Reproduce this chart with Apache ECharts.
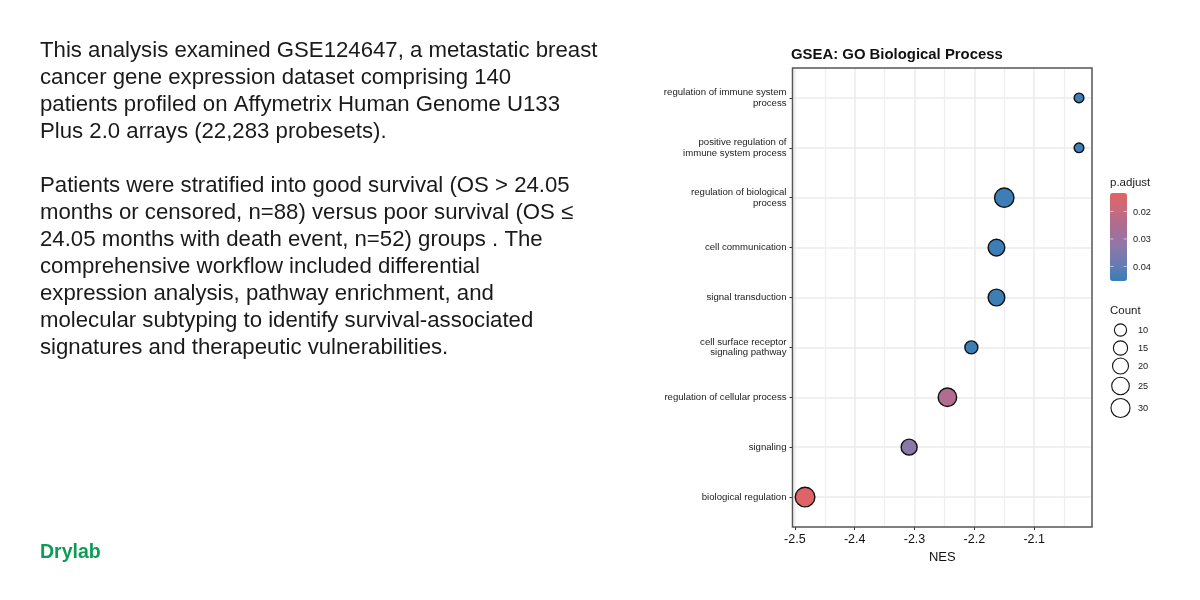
<!DOCTYPE html>
<html>
<head>
<meta charset="utf-8">
<script src="https://cdn.jsdelivr.net/npm/echarts@6/dist/echarts.min.js"></script>
<style>html,body{margin:0;padding:0;background:#fff}#c{width:1200px;height:600px}</style>
</head>
<body>
<div id="c"></div>
<script>
const terms = ['biological regulation','signaling','regulation of cellular process','cell surface receptor\nsignaling pathway','signal transduction','cell communication','regulation of biological\nprocess','positive regulation of\nimmune system process','regulation of immune system\nprocess'];
const nes = [-2.483,-2.309,-2.245,-2.205,-2.163,-2.163,-2.15,-2.025,-2.025];
const padjust = [0.0140,0.0335,0.0245,0.0445,0.0445,0.0445,0.0445,0.0445,0.0445];
const counts = [32,20,28,12,22,22,31,5,5];
const xTicks = [-2.5,-2.4,-2.3,-2.2,-2.1];
const xMinor = [-2.45,-2.35,-2.25,-2.15,-2.05];
const colorTicks = [0.02,0.03,0.04];
const sizeLegend = [10,15,20,25,30];
const para1 = ['This analysis examined GSE124647, a metastatic breast','cancer gene expression dataset comprising 140','patients profiled on Affymetrix Human Genome U133','Plus 2.0 arrays (22,283 probesets).'];
const para2 = ['Patients were stratified into good survival (OS > 24.05','months or censored, n=88) versus poor survival (OS \u2264','24.05 months with death event, n=52) groups . The','comprehensive workflow included differential','expression analysis, pathway enrichment, and','molecular subtyping to identify survival-associated','signatures and therapeutic vulnerabilities.'];

const FONT = '"Liberation Sans", Arial, sans-serif';
const sizeOf = c => Math.sqrt(40 + 10.8 * c);
const chart = echarts.init(document.getElementById('c'));
const graphics = [];
const addText = (x, y, text, size, color, weight) => graphics.push({type:'text', x, y, z:100, style:{text, fontFamily:FONT, fontSize:size, fill:color, fontWeight:weight||'normal', textVerticalAlign:'middle', textBaseline:'middle'}});
para1.forEach((t,i)=>addText(40, 50.5 + i*27.2, t, 22.2, '#1a1a1a'));
para2.forEach((t,i)=>addText(40, 185.5 + i*27, t, 22.2, '#1a1a1a'));
addText(40, 553, 'Drylab', 19.5, '#0f9b56', 'bold');

addText(1110, 183, 'p.adjust', 11.5, '#1a1a1a');
const cbTop = 193, cbH = 88, cbMin = 0.0133, cbMax = 0.0453;
colorTicks.forEach(v=>{
  const y = cbTop + (v-cbMin)/(cbMax-cbMin)*cbH;
  graphics.push({type:'line', z:100, shape:{x1:1110,y1:y,x2:1113.5,y2:y}, style:{stroke:'#fff',lineWidth:0.7,opacity:.8}});
  graphics.push({type:'line', z:100, shape:{x1:1123.5,y1:y,x2:1127,y2:y}, style:{stroke:'#fff',lineWidth:0.7,opacity:.8}});
  addText(1133, y+1, v.toFixed(2), 9.2, '#1a1a1a');
});
addText(1110, 311, 'Count', 11.5, '#1a1a1a');
const legY = [330, 348, 366, 386, 408];
sizeLegend.forEach((c,i)=>{
  graphics.push({type:'circle', z:100, shape:{cx:1120.5,cy:legY[i],r:sizeOf(c)/2}, style:{fill:'#fff',stroke:'#111',lineWidth:1.1}});
  addText(1138, legY[i]+0.5, String(c), 9.2, '#1a1a1a');
});
graphics.push({type:'rect', z:50, shape:{x:792.5,y:68,width:299.5,height:459}, style:{fill:null,stroke:'#555',lineWidth:1.5}});

chart.setOption({
  animation:false,
  backgroundColor:'#fff',
  title:{text:'GSEA: GO Biological Process', left:791, top:47, padding:0, textStyle:{fontFamily:FONT,fontSize:14.9,fontWeight:'bold',color:'#111'}},
  grid:{left:792.5, top:68, width:299.5, height:459, show:false, containLabel:false},
  xAxis:[
    {type:'value', min:-2.504, max:-2.0033, position:'bottom', name:'NES', nameLocation:'middle', nameGap:22,
     nameTextStyle:{fontFamily:FONT,fontSize:13,color:'#111'},
     axisLine:{show:false,onZero:false},
     axisTick:{show:true,length:3,customValues:xTicks,lineStyle:{color:'#333',width:1}},
     axisLabel:{show:true,customValues:xTicks,margin:6,fontFamily:FONT,fontSize:12.5,color:'#111',formatter:v=>v.toFixed(1),hideOverlap:false,showMinLabel:true,showMaxLabel:true},
     splitLine:{show:true,lineStyle:{color:'#ebebeb',width:1.5}}},
    {type:'value', min:-2.504, max:-2.0033, position:'top',
     axisLine:{show:false,onZero:false}, axisLabel:{show:false},
     axisTick:{show:false,customValues:xMinor},
     splitLine:{show:true,lineStyle:{color:'#efefef',width:1.3}}}
  ],
  yAxis:{type:'value', min:-0.6, max:8.6,
     axisLine:{show:false,onZero:false},
     axisTick:{show:true,length:3,customValues:terms.map((_,i)=>i),lineStyle:{color:'#333',width:1}},
     axisLabel:{show:true,customValues:terms.map((_,i)=>i),margin:6,fontFamily:FONT,fontSize:9.6,lineHeight:10.5,color:'#222',align:'right',formatter:v=>terms[Math.round(v)],hideOverlap:false},
     splitLine:{show:true,lineStyle:{color:'#ebebeb',width:1.5}}},
  visualMap:{type:'continuous', seriesIndex:0, dimension:2, min:cbMin, max:cbMax, left:1110, top:cbTop, padding:0, itemWidth:17, itemHeight:cbH,
     inverse:true, calculable:false, realtime:false, hoverLink:false, showLabel:false, text:null, itemGap:0,
     inRange:{color:['#e16464','#c66a7e','#a96e92','#8f77a8','#6a7bb2','#377eb8']}},
  series:[{type:'scatter', xAxisIndex:0, yAxisIndex:0, clip:false,
     data:terms.map((_,i)=>[nes[i],i,padjust[i],counts[i]]),
     symbolSize:d=>sizeOf(d[3]),
     itemStyle:{borderColor:'#111',borderWidth:1.4,opacity:1},
     z:10}],
  graphic:graphics
});
</script>
</body>
</html>
